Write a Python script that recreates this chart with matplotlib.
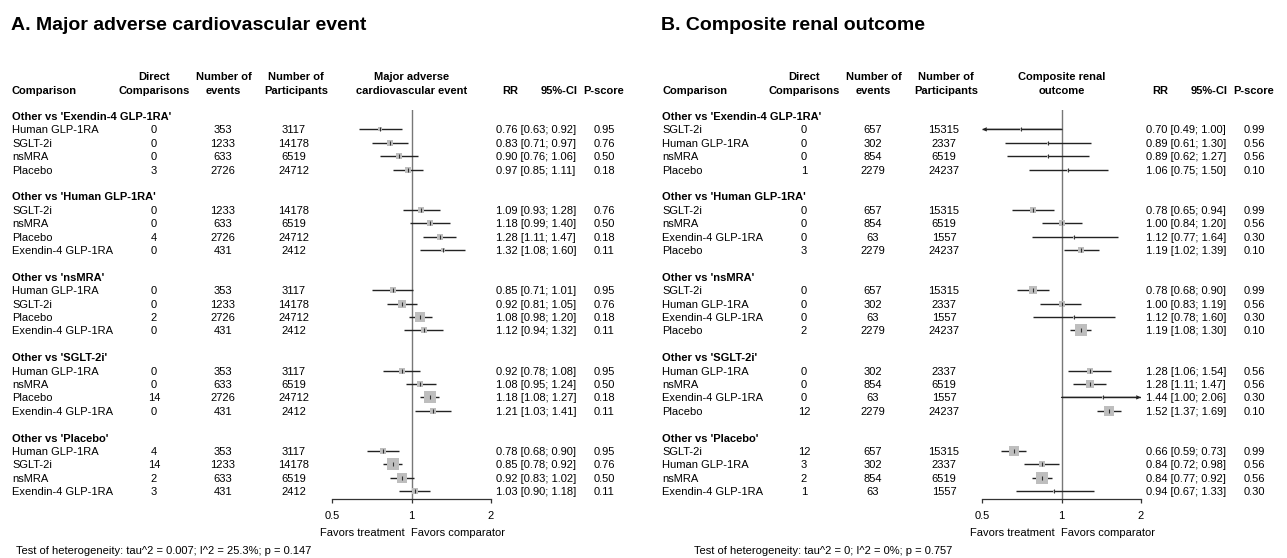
import numpy as np
import matplotlib.pyplot as plt
from matplotlib import transforms

plt.rcParams['font.family'] = ['Liberation Sans', 'DejaVu Sans']
plt.rcParams['font.size'] = 8


### DATA ###

# row order inside each of the five "Other vs ..." blocks
groups = ["Other vs 'Exendin-4 GLP-1RA'", "Other vs 'Human GLP-1RA'",
          "Other vs 'nsMRA'", "Other vs 'SGLT-2i'", "Other vs 'Placebo'"]

# A. Major adverse cardiovascular event
mace_trt = ['Human GLP-1RA', 'SGLT-2i', 'nsMRA', 'Placebo',
            'SGLT-2i', 'nsMRA', 'Placebo', 'Exendin-4 GLP-1RA',
            'Human GLP-1RA', 'SGLT-2i', 'Placebo', 'Exendin-4 GLP-1RA',
            'Human GLP-1RA', 'nsMRA', 'Placebo', 'Exendin-4 GLP-1RA',
            'Human GLP-1RA', 'SGLT-2i', 'nsMRA', 'Exendin-4 GLP-1RA']
mace_direct = [0, 0, 0, 3, 0, 0, 4, 0, 0, 0, 2, 0, 0, 0, 14, 0, 4, 14, 2, 3]
mace_events = [353, 1233, 633, 2726, 1233, 633, 2726, 431, 353, 1233, 2726, 431,
               353, 633, 2726, 431, 353, 1233, 633, 431]
mace_part = [3117, 14178, 6519, 24712, 14178, 6519, 24712, 2412, 3117, 14178, 24712, 2412,
             3117, 6519, 24712, 2412, 3117, 14178, 6519, 2412]
mace_rr = [0.76, 0.83, 0.90, 0.97, 1.09, 1.18, 1.28, 1.32, 0.85, 0.92, 1.08, 1.12,
           0.92, 1.08, 1.18, 1.21, 0.78, 0.85, 0.92, 1.03]
mace_lo = [0.63, 0.71, 0.76, 0.85, 0.93, 0.99, 1.11, 1.08, 0.71, 0.81, 0.98, 0.94,
           0.78, 0.95, 1.08, 1.03, 0.68, 0.78, 0.83, 0.90]
mace_hi = [0.92, 0.97, 1.06, 1.11, 1.28, 1.40, 1.47, 1.60, 1.01, 1.05, 1.20, 1.32,
           1.08, 1.24, 1.27, 1.41, 0.90, 0.92, 1.02, 1.18]
mace_pscore = [0.95, 0.76, 0.50, 0.18, 0.76, 0.50, 0.18, 0.11, 0.95, 0.76, 0.18, 0.11,
               0.95, 0.50, 0.18, 0.11, 0.95, 0.76, 0.50, 0.11]
mace_het = 'Test of heterogeneity: tau^2 = 0.007; I^2 = 25.3%; p = 0.147'

# B. Composite renal outcome
renal_trt = ['SGLT-2i', 'Human GLP-1RA', 'nsMRA', 'Placebo',
             'SGLT-2i', 'nsMRA', 'Exendin-4 GLP-1RA', 'Placebo',
             'SGLT-2i', 'Human GLP-1RA', 'Exendin-4 GLP-1RA', 'Placebo',
             'Human GLP-1RA', 'nsMRA', 'Exendin-4 GLP-1RA', 'Placebo',
             'SGLT-2i', 'Human GLP-1RA', 'nsMRA', 'Exendin-4 GLP-1RA']
renal_direct = [0, 0, 0, 1, 0, 0, 0, 3, 0, 0, 0, 2, 0, 0, 0, 12, 12, 3, 2, 1]
renal_events = [657, 302, 854, 2279, 657, 854, 63, 2279, 657, 302, 63, 2279,
                302, 854, 63, 2279, 657, 302, 854, 63]
renal_part = [15315, 2337, 6519, 24237, 15315, 6519, 1557, 24237, 15315, 2337, 1557, 24237,
              2337, 6519, 1557, 24237, 15315, 2337, 6519, 1557]
renal_rr = [0.70, 0.89, 0.89, 1.06, 0.78, 1.00, 1.12, 1.19, 0.78, 1.00, 1.12, 1.19,
            1.28, 1.28, 1.44, 1.52, 0.66, 0.84, 0.84, 0.94]
renal_lo = [0.49, 0.61, 0.62, 0.75, 0.65, 0.84, 0.77, 1.02, 0.68, 0.83, 0.78, 1.08,
            1.06, 1.11, 1.00, 1.37, 0.59, 0.72, 0.77, 0.67]
renal_hi = [1.00, 1.30, 1.27, 1.50, 0.94, 1.20, 1.64, 1.39, 0.90, 1.19, 1.60, 1.30,
            1.54, 1.47, 2.06, 1.69, 0.73, 0.98, 0.92, 1.33]
renal_pscore = [0.99, 0.56, 0.56, 0.10, 0.99, 0.56, 0.30, 0.10, 0.99, 0.56, 0.30, 0.10,
                0.56, 0.56, 0.30, 0.10, 0.99, 0.56, 0.56, 0.30]
renal_het = 'Test of heterogeneity: tau^2 = 0; I^2 = 0%; p = 0.757'


### LAYOUT (pixels) ###
W, H = 1287, 558
ROW0, DY = 116.0, 13.4        # centre of first block header, row step
AX_TOP, AX_BOT = 110.0, 499.3
X_LO, X_HI = 332.3, 490.7     # pixel position of 0.5 and 2
MAX_SQ = 11.5                 # side of the largest square, px

fig = plt.figure(figsize=(W / 100, H / 100), dpi=100)


def fx(px):
    return px / W


def fy(py):
    return 1 - py / H


def panel(x0, title, outcome, trt, direct, events, part, rr, lo, hi, pscore, het, het_x):
    ax = fig.add_axes([fx(x0 + X_LO), fy(AX_BOT), (X_HI - X_LO) / W, (AX_BOT - AX_TOP) / H])
    ax.set_xscale('log')
    ax.set_xlim(0.5, 2)
    ax.set_ylim((AX_BOT - ROW0) / DY, (AX_TOP - ROW0) / DY)
    ax.patch.set_alpha(0)
    for s in ['top', 'left', 'right']:
        ax.spines[s].set_visible(False)
    ax.spines['bottom'].set_color('#333333')
    ax.spines['bottom'].set_linewidth(0.9)
    ax.set_yticks([])
    ax.set_xticks([0.5, 1, 2])
    ax.set_xticklabels(['0.5', '1', '2'])
    ax.xaxis.set_minor_locator(plt.NullLocator())
    ax.tick_params(axis='x', direction='out', length=3, width=0.9, color='#333333',
                   pad=5.5, labelsize=8)
    ax.axvline(1, color='#777777', linewidth=1, zorder=1)

    tr = transforms.blended_transform_factory(fig.transFigure, ax.transData)
    off = 4.0 / DY   # baseline sits ~4 px below the text centre

    rr = np.array(rr)
    lo = np.array(lo)
    hi = np.array(hi)
    se = np.log(hi / lo) / 3.92
    side = MAX_SQ * (1 / se) / (1 / se).max()

    for i in range(len(rr)):
        g, k = divmod(i, 4)
        y = 6 * g + 1 + k
        if k == 0:
            ax.text(fx(x0 + 12), 6 * g + off, groups[g], transform=tr, va='baseline',
                    fontweight='bold')
        ax.text(fx(x0 + 12), y + off, trt[i], transform=tr, va='baseline')
        ax.text(fx(x0 + 154), y + off, str(direct[i]), transform=tr, va='baseline', ha='center')
        ax.text(fx(x0 + 223), y + off, str(events[i]), transform=tr, va='baseline', ha='center')
        ax.text(fx(x0 + 294), y + off, str(part[i]), transform=tr, va='baseline', ha='center')
        ax.text(fx(x0 + 496), y + off, f'{rr[i]:.2f} [{lo[i]:.2f}; {hi[i]:.2f}]',
                transform=tr, va='baseline', ha='left')
        ax.text(fx(x0 + 604), y + off, f'{pscore[i]:.2f}', transform=tr, va='baseline',
                ha='center')

        # confidence interval, clipped to the axis with an arrow
        a, b = max(lo[i], 0.5), min(hi[i], 2)
        ax.plot([a, b], [y, y], color='#222222', linewidth=1, zorder=2,
                solid_capstyle='butt')
        if lo[i] < 0.5:
            ax.annotate('', xy=(0.5, y), xytext=(b, y),
                        arrowprops=dict(arrowstyle='->', color='#222222', lw=0.9,
                                        shrinkA=0, shrinkB=0, mutation_scale=5))
        if hi[i] > 2:
            ax.annotate('', xy=(2, y), xytext=(a, y),
                        arrowprops=dict(arrowstyle='->', color='#222222', lw=0.9,
                                        shrinkA=0, shrinkB=0, mutation_scale=5))
        ax.scatter(rr[i], y, marker='s', s=(side[i] * 0.72) ** 2, color='#BEBEBE',
                   linewidths=0, zorder=3)
        ax.plot(rr[i], y, marker='|', markersize=2.5, markeredgewidth=0.8,
                color='#333333', zorder=4)

    # title and column headers
    fig.text(fx(x0 + 11), fy(29.5), title, fontsize=14, fontweight='bold', va='baseline')
    b1, b2 = fy(80), fy(93.5)
    fig.text(fx(x0 + 12), b2, 'Comparison', fontweight='bold', va='baseline')
    fig.text(fx(x0 + 154), b1, 'Direct', fontweight='bold', va='baseline', ha='center')
    fig.text(fx(x0 + 154), b2, 'Comparisons', fontweight='bold', va='baseline', ha='center')
    fig.text(fx(x0 + 224), b1, 'Number of', fontweight='bold', va='baseline', ha='center')
    fig.text(fx(x0 + 223), b2, 'events', fontweight='bold', va='baseline', ha='center')
    fig.text(fx(x0 + 296), b1, 'Number of', fontweight='bold', va='baseline', ha='center')
    fig.text(fx(x0 + 296), b2, 'Participants', fontweight='bold', va='baseline', ha='center')
    fig.text(fx(x0 + 412), b1, outcome[0], fontweight='bold', va='baseline', ha='center')
    fig.text(fx(x0 + 412), b2, outcome[1], fontweight='bold', va='baseline', ha='center')
    fig.text(fx(x0 + 510), b2, 'RR', fontweight='bold', va='baseline', ha='center')
    fig.text(fx(x0 + 578), b2, '95%-CI', fontweight='bold', va='baseline', ha='right')
    fig.text(fx(x0 + 604), b2, 'P-score', fontweight='bold', va='baseline', ha='center')

    fig.text(fx(x0 + 405), fy(535.5), 'Favors treatment', va='baseline', ha='right')
    fig.text(fx(x0 + 411), fy(535.5), 'Favors comparator', va='baseline', ha='left')
    fig.text(fx(het_x), fy(554), het, va='baseline')
    return ax


panel(0, 'A. Major adverse cardiovascular event', ['Major adverse', 'cardiovascular event'],
      mace_trt, mace_direct, mace_events, mace_part, mace_rr, mace_lo, mace_hi,
      mace_pscore, mace_het, 16)
panel(650, 'B. Composite renal outcome', ['Composite renal', 'outcome'],
      renal_trt, renal_direct, renal_events, renal_part, renal_rr, renal_lo, renal_hi,
      renal_pscore, renal_het, 694)

fig.savefig('out.png', dpi=100, facecolor='white')
